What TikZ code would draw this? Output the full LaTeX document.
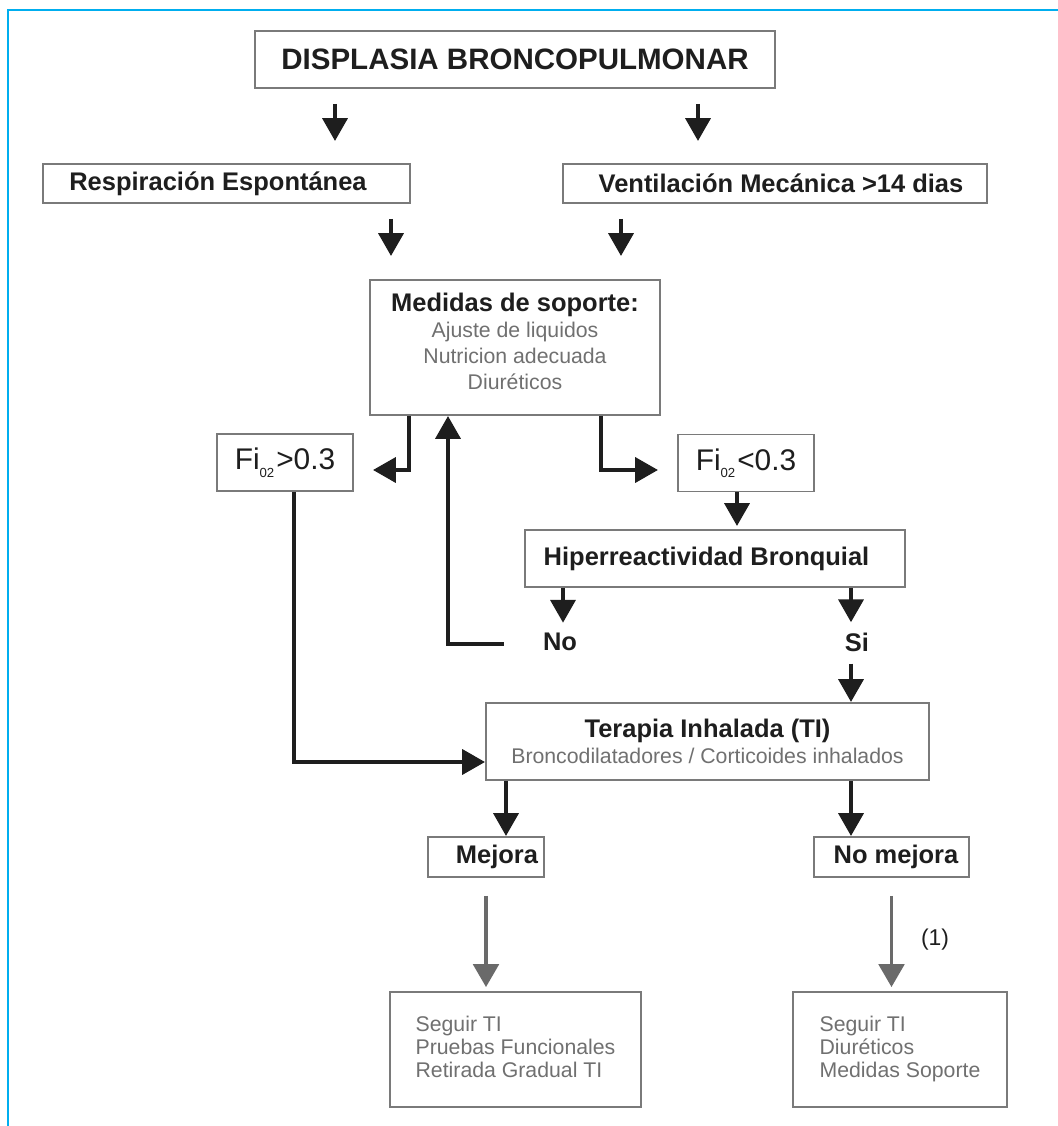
\documentclass[tikz,border=0pt]{standalone}
\usepackage{fontspec}
\setmainfont{Liberation Sans}
\usetikzlibrary{arrows.meta}
\definecolor{marco}{HTML}{00AEEF}
\definecolor{bordegris}{HTML}{7A7A7A}
\definecolor{textogris}{HTML}{707070}
\definecolor{negro}{HTML}{1E1E1E}
\definecolor{flechagris}{HTML}{6A6A6A}
\newcommand{\fio}[1]{Fi\raisebox{-0.15cm}{\fontsize{7.5}{7.5}\selectfont 02}\kern0.04cm#1}

\begin{document}
\begin{tikzpicture}[
    x=0.02cm, y=-0.02cm,
    caja/.style={draw=bordegris, line width=1.1pt, fill=white, inner sep=0pt, text=negro},
    titulo/.style={font=\fontsize{14.5}{17}\selectfont\bfseries, text=negro},
    gris/.style={font=\fontsize{12.1}{14.8}\selectfont, text=textogris},
    flecha/.style={-{Triangle[width=14pt, length=13pt]}, line width=2.6pt, draw=negro},
    flechagr/.style={-{Triangle[width=14.5pt, length=13pt]}, line width=2pt, draw=flechagris}
]
    \fill[white, use as bounding box] (0,0) rectangle (1058,1126);
    \draw[marco, line width=1.2pt] (1058,10) -- (8,10) -- (8,1126);

    \node[caja, font=\fontsize{16.8}{20}\selectfont\bfseries, minimum width=10.4cm, minimum height=1.14cm] at (515,59.5) (dbp) {DISPLASIA BRONCOPULMONAR};
    \node[caja, titulo, minimum width=7.34cm, minimum height=0.78cm] at (226.5,183.5) (resp) {Respiración Espontánea\rule{0.34cm}{0pt}};
    \node[caja, titulo, minimum width=8.48cm, minimum height=0.78cm] at (775,183.5) (vent) {\hspace{0.24cm}Ventilación Mecánica >14 dias};
    \node[caja, gris, align=center, minimum width=5.8cm, minimum height=2.7cm] at (515,347.5) (medidas) {{\color{negro}\fontsize{14.5}{17}\selectfont\bfseries Medidas de soporte:}\\ Ajuste de liquidos\\ Nutricion adecuada\\ Diuréticos\rule[-0.24cm]{0pt}{0pt}};
    \node[caja, font=\fontsize{17}{20}\selectfont, minimum width=2.72cm, minimum height=1.14cm] at (285,462.5) (fimayor) {\fio{>0.3}};
    \node[caja, font=\fontsize{17}{20}\selectfont, minimum width=2.72cm, minimum height=1.14cm] at (746,463) (fimenor) {\fio{<0.3}};
    \node[caja, titulo, minimum width=7.6cm, minimum height=1.14cm] at (715,558.5) (hiper) {Hiperreactividad Bronquial\rule{0.34cm}{0pt}};
    \node[titulo, inner sep=0pt] at (560,642) (no) {No};
    \node[titulo, inner sep=0pt] at (857,642) (si) {Si};
    \node[caja, gris, align=center, minimum width=8.86cm, minimum height=1.54cm] at (707.5,741.5) (terapia) {{\color{negro}\fontsize{14.5}{17}\selectfont\bfseries Terapia Inhalada (TI)}\\ Broncodilatadores / Corticoides inhalados};
    \node[caja, titulo, minimum width=2.32cm, minimum height=0.8cm] at (486,857) (mejora) {\hspace{0.44cm}Mejora};
    \node[caja, titulo, minimum width=3.1cm, minimum height=0.8cm] at (891.5,857) (nomejora) {\hspace{0.18cm}No mejora};
    \node[caja, gris, font=\fontsize{12.1}{13.1}\selectfont, align=left, minimum width=5.02cm, minimum height=2.3cm] at (515.5,1049.5) (seg1) {Seguir TI\\ Pruebas Funcionales\\ Retirada Gradual TI\rule[-0.1cm]{0pt}{0pt}};
    \node[caja, gris, font=\fontsize{12.1}{13.1}\selectfont, align=left, minimum width=4.28cm, minimum height=2.3cm] at (900,1049.5) (seg2) {Seguir TI\\ Diuréticos\\ Medidas Soporte\rule[-0.1cm]{0pt}{0pt}};
    \node[font=\fontsize{13}{15}\selectfont, text=negro, inner sep=0pt] at (935,940) (uno) {(1)};

    \coordinate (x1) at (335,0);
    \coordinate (x2) at (698,0);
    \coordinate (x3) at (391,0);
    \coordinate (x4) at (621,0);
    \coordinate (x5) at (409,0);
    \coordinate (x6) at (601,0);
    \coordinate (x7) at (448,0);
    \coordinate (x8) at (737,0);
    \coordinate (x9) at (563,0);
    \coordinate (x10) at (851,0);
    \coordinate (x12) at (294,0);
    \coordinate (x13) at (506,0);

    \draw[flecha, shorten <=0.3cm, shorten >=0.44cm] (x1 |- dbp.south) -- (x1 |- resp.north);
    \draw[flecha, shorten <=0.3cm, shorten >=0.44cm] (x2 |- dbp.south) -- (x2 |- vent.north);
    \draw[flecha, shorten <=0.3cm, shorten >=0.46cm] (x3 |- resp.south) -- (x3 |- medidas.north);
    \draw[flecha, shorten <=0.3cm, shorten >=0.46cm] (x4 |- vent.south) -- (x4 |- medidas.north);
    \draw[flecha, shorten >=0.38cm] (x5 |- medidas.south) |- ([yshift=-0.15cm]fimayor.east);
    \draw[flecha, shorten >=0.38cm] (x6 |- medidas.south) |- ([yshift=-0.14cm]fimenor.west);
    \draw[flecha] ([xshift=-0.78cm, yshift=-0.04cm]no.west) -| (x7 |- medidas.south);
    \draw[flecha, shorten >=0.06cm] (x8 |- fimenor.south) -- (x8 |- hiper.north);
    \draw[flecha, shorten >=0.2cm] (x9 |- hiper.south) -- (x9 |- no.north);
    \draw[flecha, shorten >=0.2cm] (x10 |- hiper.south) -- (x10 |- si.north);
    \draw[flecha, shorten <=0.24cm] (x10 |- si.south) -- (x10 |- terapia.north);
    \draw[flecha] (x12 |- fimayor.south) |- ([yshift=-0.41cm]terapia.west);
    \draw[flecha] (x13 |- terapia.south) -- (x13 |- mejora.north);
    \draw[flecha] (x10 |- terapia.south) -- (x10 |- nomejora.north);
    \draw[flechagr, shorten <=0.36cm, shorten >=0.08cm] (mejora.south) -- (mejora.south |- seg1.north);
    \draw[flechagr, shorten <=0.36cm, shorten >=0.08cm] (nomejora.south) -- (nomejora.south |- seg2.north);
\end{tikzpicture}
\end{document}
